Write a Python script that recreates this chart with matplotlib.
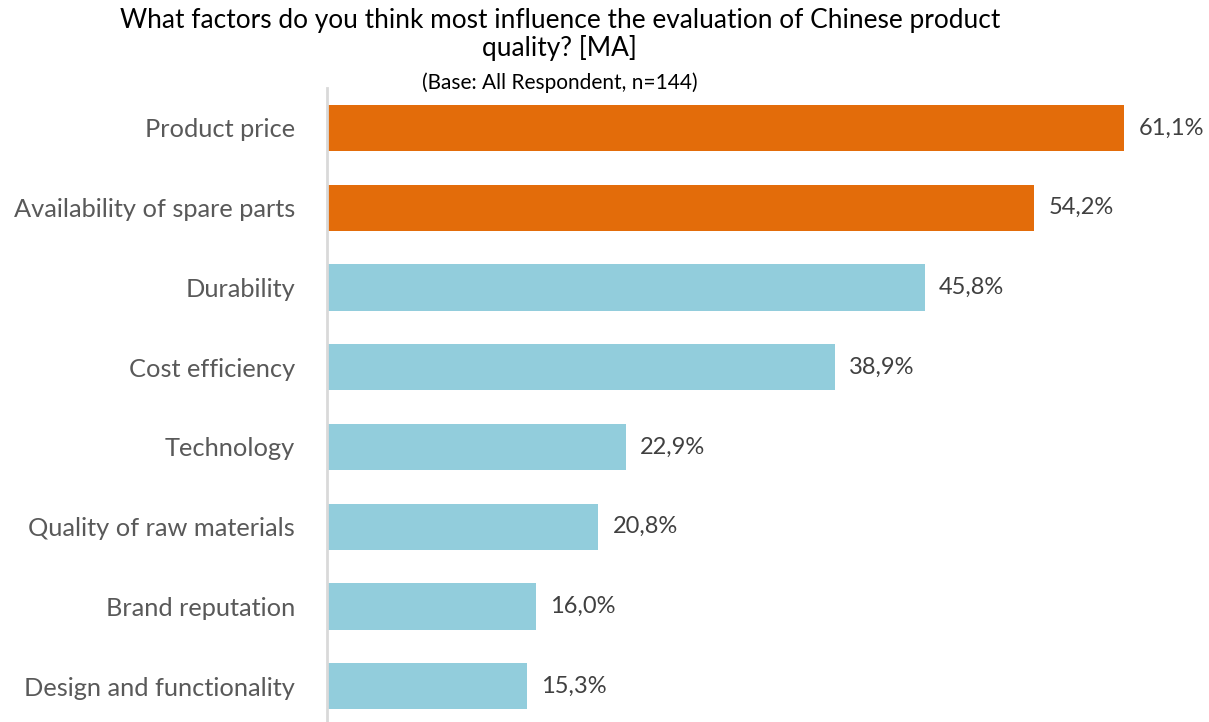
import matplotlib.pyplot as plt

plt.rcParams['font.family'] = ['Lato', 'DejaVu Sans']

# Categories and values (%)
factors = ['Product price', 'Availability of spare parts', 'Durability', 'Cost efficiency',
           'Technology', 'Quality of raw materials', 'Brand reputation', 'Design and functionality']
values = [61.1, 54.2, 45.8, 38.9, 22.9, 20.8, 16.0, 15.3]
highlight = [True, True, False, False, False, False, False, False]

orange = '#E36C0A'
blue = '#92CDDC'
colors = [orange if h else blue for h in highlight]

fig = plt.figure(figsize=(12.09, 7.22), dpi=100)
ax = fig.add_axes([0.2705, 0.0, 0.7295, 0.878])

ax.barh(range(len(factors)), values, height=0.58, color=colors)
ax.set_ylim(7.45, -0.5)
ax.set_xlim(0, 67.6)

# Value labels
for i, v in enumerate(values):
    ax.text(v + 1.1, i, f'{v:.1f}'.replace('.', ',') + '%', va='center', ha='left',
            fontsize=17, color='#404040')

ax.set_yticks(range(len(factors)))
ax.set_yticklabels(factors, fontsize=18.3, color='#595959')
ax.tick_params(axis='y', length=0, pad=23)
ax.set_xticks([])

for s in ['top', 'right', 'bottom']:
    ax.spines[s].set_visible(False)
ax.spines['left'].set_color('#D9D9D9')
ax.spines['left'].set_linewidth(2)

# Title
fig.text(0.463, 0.972, 'What factors do you think most influence the evaluation of Chinese product',
         ha='center', va='center', fontsize=18.9, color='#000000')
fig.text(0.463, 0.933, 'quality? [MA]', ha='center', va='center', fontsize=18.9, color='#000000')
fig.text(0.463, 0.886, '(Base: All Respondent, n=144)', ha='center', va='center', fontsize=15, color='#000000')

fig.savefig('out.png', dpi=100)
